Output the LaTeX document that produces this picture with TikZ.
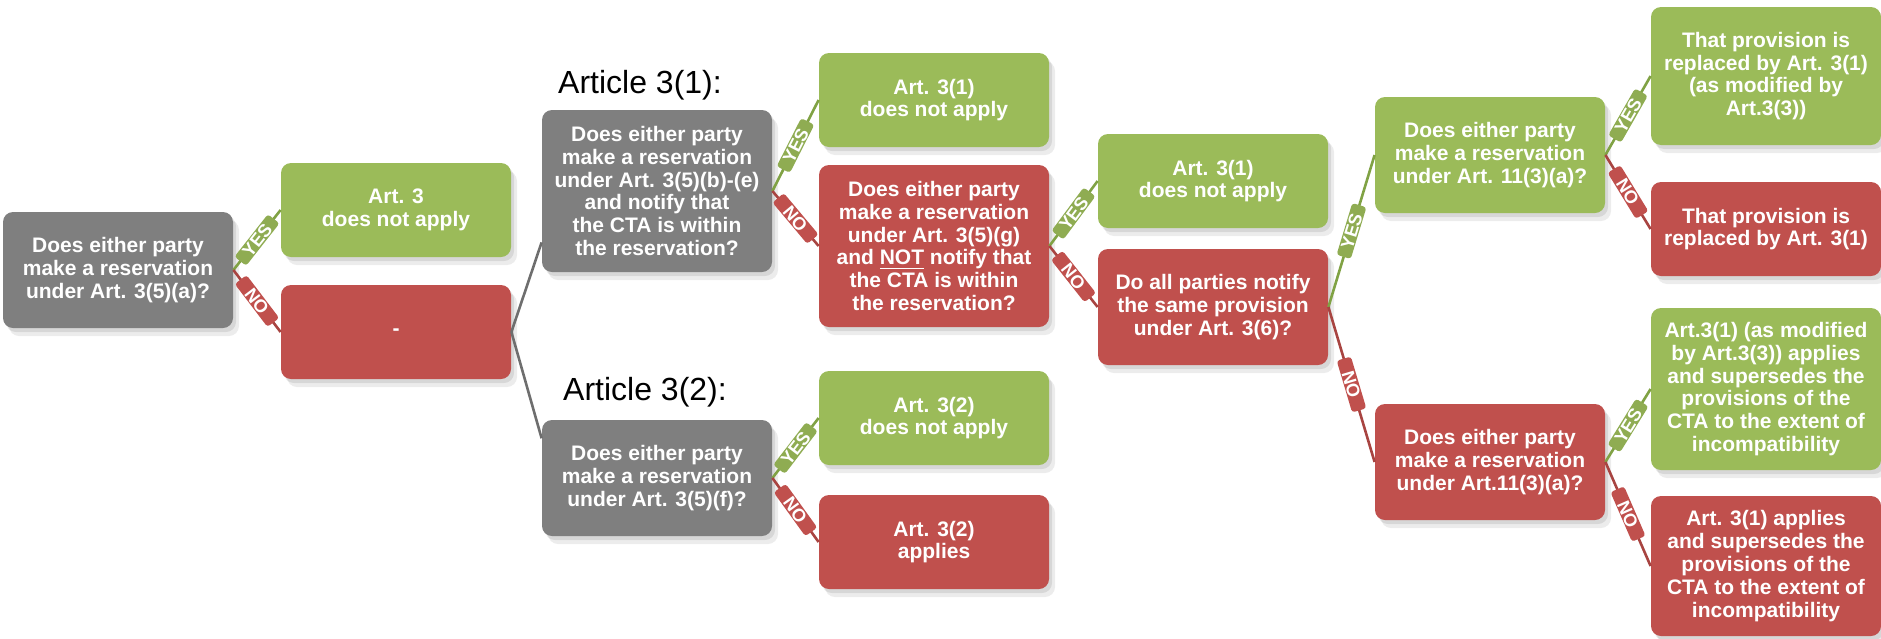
\documentclass[tikz,border=0pt]{standalone}
\usepackage{fontspec}
\setmainfont{Liberation Sans}
\usetikzlibrary{shadows}

\definecolor{qgrey}{HTML}{7F7F7F}
\definecolor{okgreen}{HTML}{9BBB59}
\definecolor{nored}{HTML}{C0504D}
\definecolor{yesline}{HTML}{80A244}
\definecolor{noline}{HTML}{A84441}
\definecolor{greyline}{HTML}{6E6E6E}

\begin{document}
\begin{tikzpicture}[x=0.5pt, y=-0.5pt]
                \tikzstyle{box}=[rectangle, rounded corners=5pt, minimum width=115pt, minimum height=47pt, inner sep=2pt, align=center, text=white, font=\fontsize{10.5}{11.4}\selectfont\bfseries, drop shadow={shadow xshift=3pt, shadow yshift=-4pt, opacity=.15}, drop shadow={shadow xshift=1.5pt, shadow yshift=-2pt, opacity=.2}]
                \tikzstyle{question}=[box, fill=qgrey]
                \tikzstyle{yesbox}=[box, fill=okgreen]
                \tikzstyle{nobox}=[box, fill=nored]
                \tikzstyle{heading}=[anchor=base, font=\fontsize{16}{19}\selectfont]
                \tikzstyle{tag}=[sloped, rounded corners=1.5pt, inner sep=0.4pt, minimum width=27pt, minimum height=7.4pt, text height=6.5pt, text depth=0pt, text=white, font=\fontsize{9}{9}\selectfont\bfseries]
                \tikzstyle{yestag}=[tag, fill=okgreen!92!black]
                \tikzstyle{notag}=[tag, fill=nored]
                \tikzstyle{yesedge}=[draw=yesline, line width=1.3pt]
                \tikzstyle{noedge}=[draw=noline, line width=1.3pt]
                \tikzstyle{greyedge}=[draw=greyline, line width=1.3pt]

                \useasboundingbox (0,0) rectangle (1881,638);

                % Define the boxes
                \node[question, minimum height=58pt] (q35a) at (118,270) {Does either party\\make a reservation\\under Art. 3(5)(a)?};
                \node[yesbox] (a3no) at (396,210) {Art. 3\\does not apply};
                \node[nobox] (dash) at (396,332) {-};

                \node[heading] (h31) at (640,93) {Article 3(1):};
                \node[question, minimum height=81pt] (q35be) at (657,191) {Does either party\\make a reservation\\under Art. 3(5)(b)-(e)\\and notify that\\the CTA is within\\the reservation?};
                \node[yesbox] (a31no) at (934,100) {Art. 3(1)\\does not apply};
                \node[nobox, minimum height=81pt] (q35g) at (934,246) {Does either party\\make a reservation\\under Art. 3(5)(g)\\and \underline{NOT} notify that\\the CTA is within\\the reservation?};

                \node[heading] (h32) at (645,400) {Article 3(2):};
                \node[question, minimum height=58pt] (q35f) at (657,478) {Does either party\\make a reservation\\under Art. 3(5)(f)?};
                \node[yesbox] (a32no) at (934,418) {Art. 3(2)\\does not apply};
                \node[nobox] (a32ap) at (934,542) {Art. 3(2)\\applies};

                \node[yesbox] (a31nob) at (1213,181) {Art. 3(1)\\does not apply};
                \node[nobox, minimum height=58pt] (q36) at (1213,307) {Do all parties notify\\the same provision\\under Art. 3(6)?};

                \node[yesbox, minimum height=58pt] (q113y) at (1490,155) {Does either party\\make a reservation\\under Art. 11(3)(a)?};
                \node[nobox, minimum height=58pt] (q113n) at (1490,462) {Does either party\\make a reservation\\under Art.11(3)(a)?};

                \node[yesbox, minimum height=69pt] (repmod) at (1766,76) {That provision is\\replaced by Art. 3(1)\\(as modified by\\Art.3(3))};
                \node[nobox] (rep) at (1766,229) {That provision is\\replaced by Art. 3(1)};
                \node[yesbox, minimum height=81pt] (supmod) at (1766,389) {Art.3(1) (as modified\\by Art.3(3)) applies\\and supersedes the\\provisions of the\\CTA to the extent of\\incompatibility};
                \node[nobox, minimum height=70pt] (sup) at (1766,566) {Art. 3(1) applies\\and supersedes the\\provisions of the\\CTA to the extent of\\incompatibility};

                % Connect the boxes
                \draw[yesedge] (q35a.east) -- node[yestag] {YES} (a3no.west);
                \draw[noedge] (q35a.east) -- node[notag] {NO} (dash.west);

                \draw[greyedge] (dash.east) -- (q35be.204);
                \draw[greyedge] (dash.east) -- (q35f.161);

                \draw[yesedge] (q35be.east) -- node[yestag] {YES} (a31no.west);
                \draw[noedge] (q35be.east) -- node[notag] {NO} (q35g.west);

                \draw[yesedge] (q35f.east) -- node[yestag] {YES} (a32no.west);
                \draw[noedge] (q35f.east) -- node[notag] {NO} (a32ap.west);

                \draw[yesedge] (q35g.east) -- node[yestag] {YES} (a31nob.west);
                \draw[noedge] (q35g.east) -- node[notag] {NO} (q36.west);

                \draw[yesedge] (q36.east) -- node[yestag] {YES} (q113y.west);
                \draw[noedge] (q36.east) -- node[notag] {NO} (q113n.west);

                \draw[yesedge] (q113y.east) -- node[yestag] {YES} (repmod.west);
                \draw[noedge] (q113y.east) -- node[notag] {NO} (rep.west);

                \draw[yesedge] (q113n.east) -- node[yestag] {YES} (supmod.west);
                \draw[noedge] (q113n.east) -- node[notag] {NO} (sup.west);

            \end{tikzpicture}
\end{document}
